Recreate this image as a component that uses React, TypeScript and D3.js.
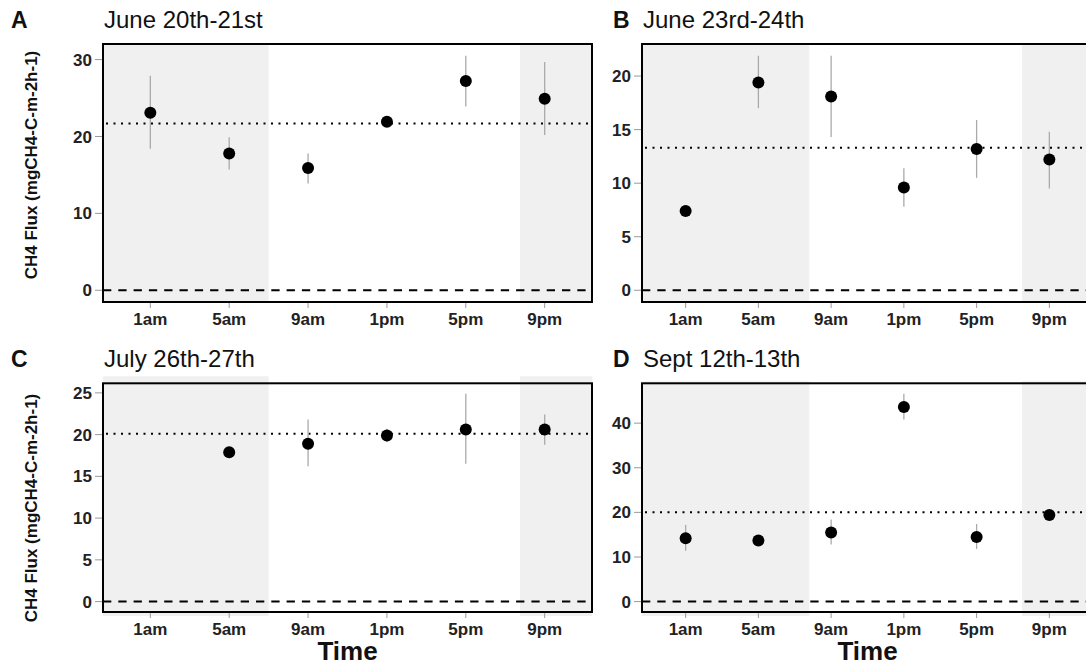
import React from "react";
import * as d3 from "d3";

const times = ["1am", "5am", "9am", "1pm", "5pm", "9pm"];

const panelLetters = ["A", "B", "C", "D"];
const panelTitles = ["June 20th-21st", "June 23rd-24th", "July 26th-27th", "Sept 12th-13th"];

// means, lower and upper error bar ends (mgCH4-C m-2 h-1)
const meanA = [23.1, 17.8, 15.9, 21.9, 27.2, 24.9];
const lowA = [18.4, 15.7, 13.9, 21.6, 23.9, 20.2];
const highA = [27.9, 19.9, 17.8, 22.2, 30.5, 29.7];

const meanB = [7.4, 19.4, 18.1, 9.6, 13.2, 12.2];
const lowB = [7.2, 17.0, 14.3, 7.8, 10.5, 9.5];
const highB = [7.6, 21.9, 21.9, 11.4, 15.9, 14.8];

const meanC = [null, 17.9, 18.9, 19.9, 20.6, 20.6];
const lowC = [null, 17.5, 16.2, 19.1, 16.5, 18.8];
const highC = [null, 18.4, 21.8, 20.7, 24.9, 22.4];

const meanD = [14.2, 13.7, 15.5, 43.6, 14.5, 19.4];
const lowD = [11.4, 13.3, 12.8, 40.8, 11.8, 19.0];
const highD = [17.2, 14.1, 18.4, 46.6, 17.4, 19.8];

// overall daily mean (dotted line)
const dailyMeans = [21.7, 13.3, 20.1, 20.0];

// dark period: before sunrise hour / after sunset hour
const sunrise = [7.0, 7.8, 7.0, 7.8];
const sunset = [19.75, 19.5, 19.75, 19.5];

const yTicks = [
  [0, 10, 20, 30],
  [0, 5, 10, 15, 20],
  [0, 5, 10, 15, 20, 25],
  [0, 10, 20, 30, 40],
];

const means = [meanA, meanB, meanC, meanD];
const lows = [lowA, lowB, lowC, lowD];
const highs = [highA, highB, highC, highD];

const W = 1086;
const H = 666;
const FONT = "'Liberation Sans', Arial, Helvetica, sans-serif";

const boxes = [
  { l: 103, r: 592, t: 44, b: 302, shadeT: 0, shadeB: 0 },
  { l: 642, r: 1093, t: 44, b: 302, shadeT: 0, shadeB: 0 },
  { l: 103, r: 592, t: 383.3, b: 612, shadeT: 7, shadeB: 4 },
  { l: 642, r: 1093, t: 383.3, b: 612, shadeT: 2, shadeB: 4 },
];

const hourToPos = (h: number) => 1 + (h - 1) / 4;

function Panel({ i }: { i: number }) {
  const bx = boxes[i];
  const m = means[i];
  const lo = lows[i];
  const hi = highs[i];
  const maxV = d3.max(hi.filter((v) => v != null) as number[]) as number;
  const minV = 0;
  const pad = (maxV - minV) * 0.05;
  const y = d3.scaleLinear().domain([minV - pad, maxV + pad]).range([bx.b, bx.t]);
  const x = d3.scaleLinear().domain([0.4, 6.6]).range([bx.l, bx.r]);
  const idx = d3.range(times.length);
  const shadeFill = "#f0f0f0";
  const sT = bx.t - bx.shadeT;
  const sB = bx.b + bx.shadeB;
  const isLeft = i % 2 === 0;
  const isBottom = i >= 2;
  const letterX = isLeft ? 11 : 613;
  const titleY = bx.t - 16;
  return (
    <g>
      {/* night shading */}
      <rect x={x(0.4)} y={sT} width={x(hourToPos(sunrise[i])) - x(0.4)} height={sB - sT} fill={shadeFill} />
      <rect x={x(hourToPos(sunset[i]))} y={sT} width={x(6.6) - x(hourToPos(sunset[i]))} height={sB - sT} fill={shadeFill} />
      {/* zero line */}
      <line x1={bx.l} x2={bx.r} y1={y(0)} y2={y(0)} stroke="#000" strokeWidth={2} strokeDasharray="8.3,7" />
      {/* daily mean */}
      <line x1={bx.l + 3} x2={bx.r} y1={y(dailyMeans[i])} y2={y(dailyMeans[i])} stroke="#000" strokeWidth={2} strokeDasharray="2,5.5" />
      {/* error bars */}
      {idx.filter((j) => m[j] != null).map((j) => (
        <line key={"e" + j} x1={x(j + 1)} x2={x(j + 1)} y1={y(lo[j] as number)} y2={y(hi[j] as number)} stroke="#aaa" strokeWidth={1.3} />
      ))}
      {/* points */}
      {idx.filter((j) => m[j] != null).map((j) => (
        <circle key={"p" + j} cx={x(j + 1)} cy={y(m[j] as number)} r={6} fill="#000" />
      ))}
      {/* border */}
      <rect x={bx.l} y={bx.t} width={bx.r - bx.l} height={bx.b - bx.t} fill="none" stroke="#000" strokeWidth={2} />
      {/* y axis */}
      {yTicks[i].map((t) => (
        <g key={"y" + t}>
          <line x1={bx.l - 8} x2={bx.l - 1} y1={y(t)} y2={y(t)} stroke="#999" strokeWidth={1} />
          <text x={bx.l - 11} y={y(t)} dy="0.36em" textAnchor="end" fontFamily={FONT} fontWeight="bold" fontSize={17} fill="#222">
            {t}
          </text>
        </g>
      ))}
      {/* x axis */}
      {idx.map((j) => (
        <g key={"x" + j}>
          <line x1={x(j + 1)} x2={x(j + 1)} y1={bx.b + 1} y2={bx.b + 6} stroke="#999" strokeWidth={1} />
          <text x={x(j + 1)} y={bx.b + 23} textAnchor="middle" fontFamily={FONT} fontWeight="bold" fontSize={17} fill="#222">
            {times[j]}
          </text>
        </g>
      ))}
      {/* titles */}
      <text x={letterX} y={titleY} fontFamily={FONT} fontWeight="bold" fontSize={23} fill="#111">
        {panelLetters[i]}
      </text>
      <text x={bx.l + 1} y={titleY} fontFamily={FONT} fontSize={24} fill="#111">
        {panelTitles[i]}
      </text>
      {isBottom && (
        <text x={(bx.l + bx.r) / 2} y={660} textAnchor="middle" fontFamily={FONT} fontWeight="bold" fontSize={26} fill="#111">
          Time
        </text>
      )}
      {isLeft && (
        <text
          transform={`translate(37, ${i === 0 ? 165 : 508}) rotate(-90)`}
          textAnchor="middle"
          fontFamily={FONT}
          fontWeight="bold"
          fontSize={17}
          fill="#111"
        >
          CH4 Flux (mgCH4-C-m-2h-1)
        </text>
      )}
    </g>
  );
}

export default function App() {
  return (
    <svg
      width={W}
      height={H}
      viewBox={`0 0 ${W} ${H}`}
      style={{ position: "absolute", left: 0, top: 0, background: "#fff", overflow: "hidden" }}
    >
      <rect x={0} y={0} width={W} height={H} fill="#fff" />
      {[0, 1, 2, 3].map((i) => (
        <Panel key={i} i={i} />
      ))}
    </svg>
  );
}
